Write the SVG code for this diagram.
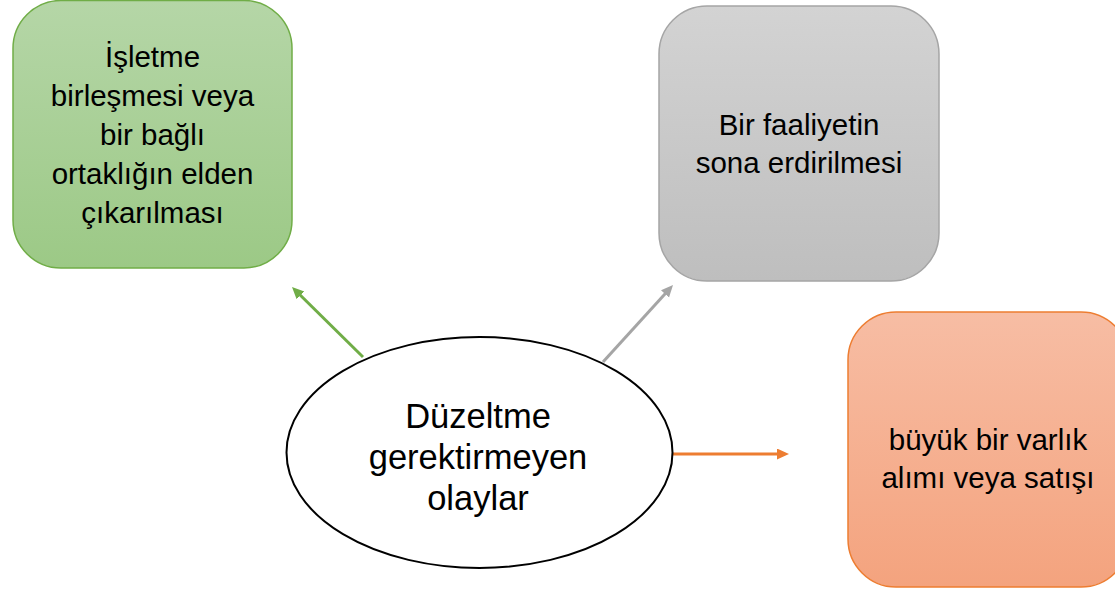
<svg xmlns="http://www.w3.org/2000/svg" width="1115" height="594" viewBox="0 0 1115 594">
<style>
.t{font-family:"Liberation Sans",Arial,sans-serif;fill:#000;text-anchor:middle}
.bx{font-size:29.5px}
.el{font-size:34.5px}
.c{fill:none;stroke-width:3}
</style>
<defs>
<linearGradient id="gG" x1="0" y1="0" x2="0" y2="1"><stop offset="0" stop-color="#b5d6a7"/><stop offset="1" stop-color="#9cc986"/></linearGradient>
<linearGradient id="gY" x1="0" y1="0" x2="0" y2="1"><stop offset="0" stop-color="#d3d3d3"/><stop offset="1" stop-color="#bebebe"/></linearGradient>
<linearGradient id="gO" x1="0" y1="0" x2="0" y2="1"><stop offset="0" stop-color="#f7bda4"/><stop offset="1" stop-color="#f4a37e"/></linearGradient>
<marker id="aG" markerUnits="userSpaceOnUse" markerWidth="14" markerHeight="12" refX="2" refY="5.5" orient="auto"><path d="M0,0 L12,5.5 L0,11 z" fill="#70ad47"/></marker>
<marker id="aY" markerUnits="userSpaceOnUse" markerWidth="14" markerHeight="12" refX="2" refY="5.5" orient="auto"><path d="M0,0 L12,5.5 L0,11 z" fill="#a5a5a5"/></marker>
<marker id="aO" markerUnits="userSpaceOnUse" markerWidth="14" markerHeight="12" refX="2" refY="5.5" orient="auto"><path d="M0,0 L12,5.5 L0,11 z" fill="#ed7d31"/></marker>
</defs>
<rect width="1115" height="594" fill="#fff"/>
<g id="connectors">
<line class="c" x1="363" y1="357" x2="299.1" y2="294" stroke="#70ad47" marker-end="url(#aG)"/>
<line class="c" x1="603" y1="362" x2="666.3" y2="292.4" stroke="#a5a5a5" marker-end="url(#aY)"/>
<line class="c" x1="673" y1="454" x2="779" y2="454" stroke="#ed7d31" marker-end="url(#aO)"/>
</g>
<g id="node-green">
<rect x="13" y="0.5" width="279" height="267.5" rx="48" ry="48" fill="url(#gG)" stroke="#70ad47" stroke-width="1.5"/>
<text class="t bx" x="152.5" y="67">İşletme</text>
<text class="t bx" x="152.5" y="106">birleşmesi veya</text>
<text class="t bx" x="152.5" y="145">bir bağlı</text>
<text class="t bx" x="152.5" y="184">ortaklığın elden</text>
<text class="t bx" x="152.5" y="223">çıkarılması</text>
</g>
<g id="node-gray">
<rect x="659" y="6" width="280" height="275" rx="48" ry="48" fill="url(#gY)" stroke="#a5a5a5" stroke-width="1.5"/>
<text class="t bx" x="799" y="135">Bir faaliyetin</text>
<text class="t bx" x="799" y="173">sona erdirilmesi</text>
</g>
<g id="node-orange">
<rect x="848" y="312" width="281" height="275" rx="48" ry="48" fill="url(#gO)" stroke="#ed7d31" stroke-width="1.5"/>
<text class="t bx" x="988" y="450">büyük bir varlık</text>
<text class="t bx" x="988" y="488">alımı veya satışı</text>
</g>
<g id="node-center">
<ellipse cx="479.5" cy="452.5" rx="193" ry="115.5" fill="#fff" stroke="#000" stroke-width="2"/>
<text class="t el" x="478" y="428">Düzeltme</text>
<text class="t el" x="478" y="469">gerektirmeyen</text>
<text class="t el" x="478" y="510">olaylar</text>
</g>
</svg>
